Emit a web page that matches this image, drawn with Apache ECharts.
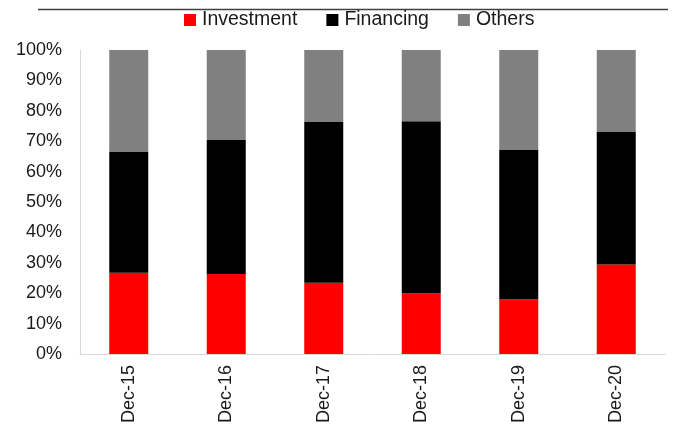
<!DOCTYPE html>
<html>
<head>
<meta charset="utf-8">
<script src="https://cdn.jsdelivr.net/npm/echarts@6/dist/echarts.min.js"></script>
<style>
  html, body { margin: 0; padding: 0; background: #fff; }
  #chart { width: 673px; height: 426px; }
</style>
</head>
<body>
<div id="chart"></div>
<script>
// Share of each component per year-end (%)
const categories = ['Dec-15', 'Dec-16', 'Dec-17', 'Dec-18', 'Dec-19', 'Dec-20'];
const investment = [26.7, 26.3, 23.4, 20.0, 18.0, 29.4];
const financing  = [39.9, 44.1, 52.9, 56.6, 49.3, 43.8];
const others     = [33.4, 29.6, 23.7, 23.4, 32.7, 26.8];
const yTicks = [0, 10, 20, 30, 40, 50, 60, 70, 80, 90, 100];

const FONT = '"Liberation Sans", Arial, sans-serif';
const chart = echarts.init(document.getElementById('chart'), null, { renderer: 'canvas' });

function barSeries(name, data, color) {
  return {
    name: name,
    type: 'bar',
    stack: 'total',
    barWidth: 39,
    data: data,
    itemStyle: { color: color },
    emphasis: { disabled: true }
  };
}

chart.setOption({
  animation: false,
  backgroundColor: '#ffffff',
  textStyle: { fontFamily: FONT },
  legend: {
    left: 184,
    top: 10,
    padding: 0,
    itemWidth: 12,
    itemHeight: 12,
    itemGap: 29,
    icon: 'rect',
    textStyle: { fontFamily: FONT, fontSize: 19.5, color: '#1a1a1a', padding: [0, 0, 0, 1] },
    data: ['Investment', 'Financing', 'Others']
  },
  grid: { left: 80, right: 8, top: 50, bottom: 72 },
  xAxis: {
    type: 'category',
    data: categories,
    axisLine: { show: true, lineStyle: { color: '#d9d9d9', width: 1 } },
    axisTick: { show: false },
    axisLabel: {
      rotate: 90,
      margin: 11,
      fontFamily: FONT,
      fontSize: 18,
      color: '#1a1a1a'
    }
  },
  yAxis: {
    type: 'value',
    min: yTicks[0],
    max: yTicks[yTicks.length - 1],
    interval: 10,
    axisLine: { show: true, lineStyle: { color: '#d9d9d9', width: 1 } },
    axisTick: { show: false },
    splitLine: { show: false },
    axisLabel: {
      margin: 18,
      fontFamily: FONT,
      fontSize: 18,
      color: '#1a1a1a',
      formatter: v => v + '%'
    }
  },
  graphic: [{
    type: 'line',
    shape: { x1: 38, y1: 9.5, x2: 668, y2: 9.5 },
    style: { stroke: '#404040', lineWidth: 1.5 },
    silent: true
  }],
  series: [
    barSeries('Investment', investment, '#ff0000'),
    barSeries('Financing', financing, '#000000'),
    barSeries('Others', others, '#808080')
  ]
});
</script>
</body>
</html>
